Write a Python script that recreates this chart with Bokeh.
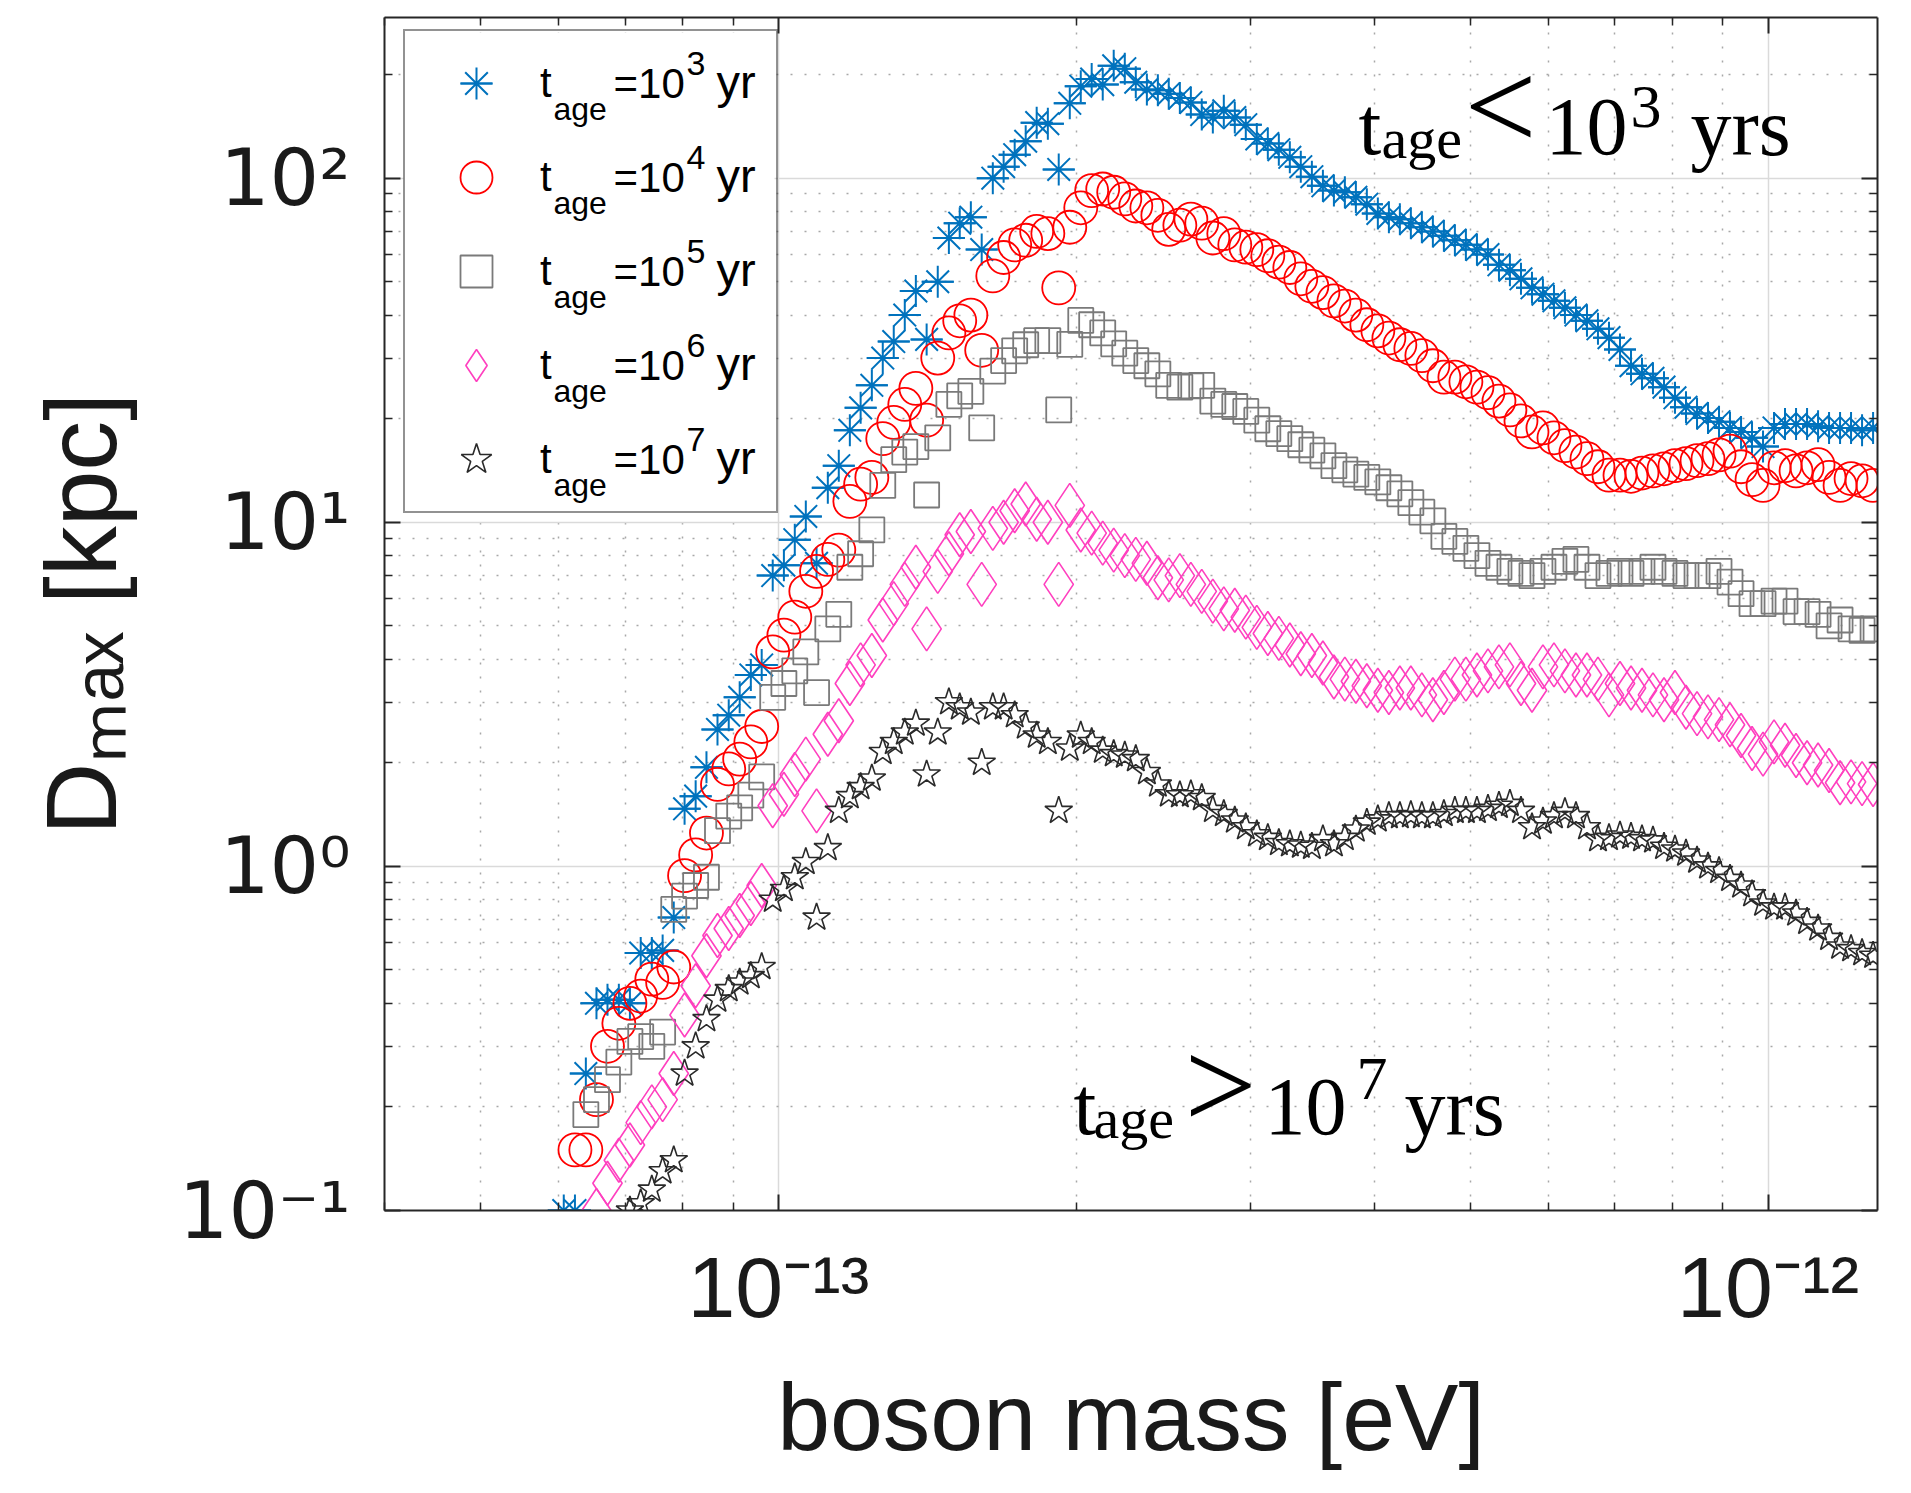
import math
from bokeh.plotting import figure
from bokeh.models import (Range1d, FixedTicker, LogAxis, Label, Legend, LegendItem,
                          CustomJSTickFormatter, BoxAnnotation)
from bokeh.embed import file_html
from bokeh.resources import INLINE

nan = float("nan")

# boson mass in units of 1e-14 eV (shared grid of all series)
mass_e14 = [6.07, 6.23, 6.39, 6.55, 6.72, 6.90, 7.08, 7.26, 7.45, 7.64,
            7.84, 8.04, 8.25, 8.46, 8.68, 8.91, 9.14, 9.38, 9.62, 9.87,
            10.13, 10.39, 10.66, 10.93, 11.22, 11.51, 11.81, 12.11, 12.43, 12.75,
            13.08, 13.42, 13.77, 14.12, 14.49, 14.87, 15.25, 15.65, 16.05, 16.47,
            16.89, 17.33, 17.78, 18.24, 18.72, 19.20, 19.70, 20.21, 20.73, 21.27,
            21.82, 22.39, 22.97, 23.57, 24.18, 24.80, 25.45, 26.11, 26.78, 27.48,
            28.19, 28.92, 29.67, 30.44, 31.23, 32.04, 32.87, 33.72, 34.60, 35.50,
            36.42, 37.36, 38.33, 39.32, 40.34, 41.39, 42.46, 43.56, 44.69, 45.85,
            47.04, 48.26, 49.51, 50.80, 52.12, 53.47, 54.85, 56.28, 57.74, 59.23,
            60.77, 62.34, 63.96, 65.62, 67.32, 69.07, 70.86, 72.70, 74.58, 76.51,
            78.50, 80.53, 82.62, 84.77, 86.96, 89.22, 91.53, 93.91, 96.34, 98.84,
            101.40, 104.03, 106.73, 109.50, 112.34, 115.25, 118.24, 121.30, 124.45, 127.68]

# D_max [kpc] for each age
D_t1e3 = [0.10, 0.10, 0.25, 0.40, 0.41, 0.41, 0.40, 0.56, 0.56, 0.57,
          0.71, 1.47, 1.60, 1.94, 2.50, 2.75, 3.10, 3.60, 3.85, 7.00,
          7.50, 8.90, 10.4, 7.6, 12.6, 14.6, 18.5, 21.5, 25.0, 30.0,
          33.5, 40.0, 47.0, 34.0, 50.0, 67.0, 74.0, 77.0, 62.0, 100.0,
          108, 117, 128, 145, 144, 106, 165, 185, 194, 187,
          212, 208, 190, 181, 180, 176, 171, 166, 153, 150,
          157, 150, 143, 130, 126, 121, 115, 108, 101, 95,
          92, 91, 88, 84, 79, 77, 76, 74, 72, 70,
          68, 66, 64, 62, 60, 56, 54, 51, 48, 46,
          44, 42, 40, 38.5, 36.5, 34.4, 31.8, 28.5, 27.0, 26.2,
          24.7, 23.0, 21.6, 20.7, 20.1, 19.6, 18.8, 18.3, 17.6, 16.6,
          18.8, 19.3, 19.3, 19.3, 19.0, 18.8, 18.8, 18.8, 18.5, 18.8]

D_t1e4 = [nan, 0.15, 0.15, 0.21, 0.30, 0.35, 0.40, 0.42, 0.47, 0.46,
          0.51, 0.94, 1.08, 1.25, 1.73, 1.92, 2.05, 2.30, 2.55, 4.20,
          4.70, 5.30, 6.30, 7.20, 7.80, 8.30, 11.5, 12.9, 13.5, 17.5,
          19.5, 22.0, 24.5, 19.8, 30.0, 35.5, 38.5, 40.0, 31.6, 52.0,
          58.8, 64.0, 66.0, 70.0, 69.0, 48.0, 72.0, 82.0, 92.0, 93.0,
          91, 87, 83, 82, 78, 71, 73, 76, 74, 67,
          69, 64, 63, 62, 59.5, 57, 55, 51, 48.5, 46.5,
          44, 42.5, 40, 37.5, 36, 34.3, 32.8, 32, 30.5, 28.5,
          26.4, 26.4, 25.6, 24.7, 23.8, 22.5, 21.2, 19.7, 18.3, 18.8,
          17.6, 16.7, 16.0, 15.3, 14.5, 13.7, 13.7, 13.6, 13.9, 14.1,
          14.3, 14.6, 14.8, 15.1, 15.3, 15.7, 16.1, 14.5, 13.3, 12.8,
          14.4, 14.6, 14.1, 14.4, 14.7, 13.5, 12.8, 13.4, 13.2, 12.8]

D_t1e5 = [nan, nan, 0.19, 0.21, 0.24, 0.27, 0.31, 0.32, 0.30, 0.33,
          0.75, 0.82, 0.88, 0.93, 1.27, 1.40, 1.48, 1.61, 1.82, 3.10,
          3.40, 3.70, 4.20, 3.20, 4.90, 5.40, 7.40, 8.10, 9.50, 12.8,
          15.2, 16.0, 16.6, 12.0, 17.6, 22.0, 23.3, 24.0, 18.8, 27.5,
          29.5, 31.5, 32.8, 33.7, 33.7, 21.2, 32.9, 38.6, 37.5, 35.5,
          33, 31, 29.5, 28.5, 27, 25, 24.7, 24.9, 25, 22.5,
          22, 21.7, 21, 19.8, 18.7, 18.1, 17.5, 16.8, 16.2, 15.6,
          14.6, 14.2, 13.8, 13.5, 13.1, 12.6, 12.1, 11.4, 10.7, 10.1,
          9.1, 8.8, 8.4, 8.0, 7.6, 7.4, 7.2, 7.1, 7.0, 7.2,
          7.4, 7.7, 7.8, 7.4, 7.0, 7.1, 7.2, 7.1, 7.2, 7.4,
          7.2, 7.1, 7.0, 7.0, 7.0, 7.2, 6.7, 6.2, 5.8, 5.8,
          5.9, 5.9, 5.5, 5.5, 5.4, 5.0, 5.2, 4.9, 4.85, 4.9]

D_t1e6 = [nan, nan, nan, 0.10, 0.12, 0.14, 0.155, 0.18, 0.20, 0.21,
          0.25, 0.37, 0.45, 0.55, 0.63, 0.66, 0.72, 0.78, 0.88, 1.50,
          1.62, 1.85, 2.05, 1.45, 2.42, 2.65, 3.40, 3.85, 4.10, 5.20,
          5.8, 6.6, 7.4, 4.9, 7.2, 8.1, 9.2, 9.4, 6.6, 9.6,
          10.0, 10.8, 11.3, 10.2, 10.0, 6.6, 11.2, 9.5, 9.3, 8.7,
          8.3, 8.0, 7.8, 7.6, 6.9, 6.8, 7.0, 6.6, 6.3, 5.9,
          5.6, 5.55, 5.3, 4.95, 4.75, 4.6, 4.4, 4.15, 4.1, 3.9,
          3.55, 3.5, 3.45, 3.35, 3.25, 3.2, 3.3, 3.3, 3.15, 3.05,
          3.2, 3.5, 3.5, 3.6, 3.7, 3.8, 3.85, 3.4, 3.25, 3.8,
          3.85, 3.7, 3.6, 3.6, 3.5, 3.15, 3.4, 3.3, 3.25, 3.15,
          3.05, 3.2, 2.9, 2.78, 2.72, 2.67, 2.58, 2.4, 2.2, 2.12,
          2.3, 2.25, 2.1, 2.0, 1.97, 1.9, 1.75, 1.76, 1.74, 1.73]

D_t1e7 = [nan, nan, nan, nan, nan, nan, 0.10, 0.105, 0.115, 0.13,
          0.14, 0.25, 0.30, 0.36, 0.41, 0.44, 0.46, 0.48, 0.51, 0.80,
          0.86, 0.93, 1.03, 0.71, 1.13, 1.45, 1.60, 1.70, 1.80, 2.15,
          2.3, 2.45, 2.6, 1.85, 2.45, 3.0, 2.9, 2.8, 2.0, 2.9,
          2.9, 2.75, 2.55, 2.4, 2.3, 1.45, 2.2, 2.4, 2.3, 2.17,
          2.12, 2.1, 2.05, 1.88, 1.73, 1.62, 1.61, 1.62, 1.58, 1.46,
          1.42, 1.36, 1.30, 1.24, 1.21, 1.17, 1.16, 1.15, 1.14, 1.20,
          1.16, 1.21, 1.28, 1.34, 1.37, 1.40, 1.40, 1.41, 1.40, 1.40,
          1.42, 1.45, 1.45, 1.45, 1.47, 1.50, 1.52, 1.45, 1.30, 1.35,
          1.40, 1.44, 1.40, 1.30, 1.20, 1.21, 1.23, 1.22, 1.20, 1.19,
          1.14, 1.12, 1.09, 1.04, 1.00, 0.97, 0.92, 0.88, 0.83, 0.78,
          0.76, 0.76, 0.73, 0.69, 0.66, 0.62, 0.585, 0.575, 0.56, 0.55]

age_exponents = ["3", "4", "5", "6", "7"]
x_ticks = [1e-13, 1e-12]
x_tick_exps = ["-13", "-12"]
y_ticks = [0.1, 1, 10, 100]
y_tick_exps = ["-1", "0", "1", "2"]

mass = [m * 1e-14 for m in mass_e14]

BLUE, RED, GRAY, PINK, DARK = "#0072bd", "#ff0000", "#7a7a7a", "#ff3fbf", "#2a2a2a"
AX = "#262626"
TXT = "#1a1a1a"
SANS = "Liberation Sans"
SERIF = "Liberation Serif"
SUP = str.maketrans("-0123456789", "\u207b\u2070\u00b9\u00b2\u00b3\u2074\u2075\u2076\u2077\u2078\u2079")

W, H = 1911, 1493
L, R, T, B = 384, 1877, 17, 1210

p = figure(width=W, height=H, x_axis_type="log", y_axis_type="log",
           x_range=Range1d(4.0e-14, 1.29e-12), y_range=Range1d(0.1, 293),
           output_backend="svg", toolbar_location=None,
           min_border_left=L, min_border_right=W - R,
           min_border_top=T, min_border_bottom=H - B)
p.background_fill_color = "white"
p.border_fill_color = "white"
p.outline_line_color = None

x_minor = [m * 10.0 ** e for e in (-14, -13) for m in range(2, 10) if 4.0e-14 <= m * 10.0 ** e <= 1.29e-12]
y_minor = [m * 10.0 ** e for e in (-1, 0, 1, 2) for m in range(2, 10) if m * 10.0 ** e <= 293]
xt = FixedTicker(ticks=x_ticks, minor_ticks=x_minor)
yt = FixedTicker(ticks=y_ticks, minor_ticks=y_minor)


def style_axis(ax):
    ax.axis_line_color = AX
    ax.axis_line_width = 2
    ax.major_tick_line_color = AX
    ax.major_tick_line_width = 2
    ax.minor_tick_line_color = AX
    ax.minor_tick_line_width = 1.5
    ax.major_tick_in = 16
    ax.major_tick_out = 0
    ax.minor_tick_in = 8
    ax.minor_tick_out = 0


p.xaxis.ticker = xt
p.yaxis.ticker = yt
xa, ya = p.xaxis[0], p.yaxis[0]
style_axis(xa)
style_axis(ya)

xa.major_label_overrides = {v: "10" + e.translate(SUP) for v, e in zip(x_ticks, x_tick_exps)}
xa.major_label_text_font = SANS
xa.major_label_text_font_size = "86px"
xa.major_label_text_color = TXT
xa.major_label_standoff = 28
xa.axis_label = "boson mass [eV]"
xa.axis_label_text_font = SANS
xa.axis_label_text_font_size = "95px"
xa.axis_label_text_font_style = "normal"
xa.axis_label_text_color = TXT
xa.axis_label_standoff = 26

ya.major_label_overrides = {v: "10" + e.translate(SUP) for v, e in zip(y_ticks, y_tick_exps)}
ya.major_label_text_font = "DejaVu Sans"
ya.major_label_text_font_size = "78px"
ya.major_label_text_color = TXT
ya.major_label_standoff = 34
ya.axis_label = "D\u2098\u2090\u2093 [kpc]"
ya.axis_label_text_font = SANS
ya.axis_label_text_font_size = "100px"
ya.axis_label_text_font_style = "normal"
ya.axis_label_text_color = TXT
ya.axis_label_standoff = 39

blank = CustomJSTickFormatter(code="return ''")
top_ax = LogAxis(ticker=xt, formatter=blank, major_label_standoff=0)
right_ax = LogAxis(ticker=yt, formatter=blank, major_label_standoff=0)
style_axis(top_ax)
style_axis(right_ax)
p.add_layout(top_ax, "above")
p.add_layout(right_ax, "right")

p.xgrid.ticker = xt
p.ygrid.ticker = yt
for g in (p.xgrid[0], p.ygrid[0]):
    g.grid_line_color = "#dadada"
    g.grid_line_width = 1.5
    g.minor_grid_line_color = "#a8a8a8"
    g.minor_grid_line_width = 1.5
    g.minor_grid_line_dash = "2 12"

# white panel behind the legend (hides the grid there)
p.add_layout(BoxAnnotation(left=403 - L, right=774 - L, top=B - 32, bottom=B - 513,
                           left_units="screen", right_units="screen",
                           top_units="screen", bottom_units="screen",
                           fill_color="white", fill_alpha=1.0, line_color=None,
                           level="underlay"))

# data
r_b1 = p.scatter(mass, D_t1e3, marker="asterisk", size=32, line_color=BLUE, line_width=2)
r_b2 = p.scatter(mass, D_t1e3, marker="dash", size=32, line_color=BLUE, line_width=2)
r_r = p.scatter(mass, D_t1e4, marker="circle", size=33, line_color=RED, fill_color=None, line_width=1.8)
r_g = p.scatter(mass, D_t1e5, marker="square", size=25, line_color=GRAY, fill_color=None, line_width=1.8)
r_p = p.scatter(mass, D_t1e6, marker="diamond", size=44, line_color=PINK, fill_color=None, line_width=1.6)
r_k = p.scatter(mass, D_t1e7, marker="star", size=29, line_color=DARK, fill_color=None, line_width=1.6)

# legend (box, markers and the leading "t"); the rest of each entry is written beside it
items = [LegendItem(label="t", renderers=rs) for rs in
         ([r_b1, r_b2], [r_r], [r_g], [r_p], [r_k])]
leg = Legend(items=items, location=(19, 697), orientation="vertical",
             glyph_width=118, glyph_height=80, label_height=80, label_width=224,
             spacing=14, padding=12, margin=0, label_standoff=5,
             border_line_color=AX, border_line_width=2,
             background_fill_color="white", background_fill_alpha=0.0,
             label_text_font=SANS, label_text_font_size="42px",
             label_text_color="#000000", label_text_baseline="middle")
p.add_layout(leg)

# the label anchor ends up ~0.38 em above the glyph baseline
SHIFT = 0.38


def lab(X, Ybase, text, size, font=SANS, align="left", color="#000000"):
    p.add_layout(Label(x=X - L, y=B - (Ybase - SHIFT * size), x_units="screen", y_units="screen",
                       text=text, text_font=font, text_font_size=f"{size}px", text_align=align,
                       text_baseline="alphabetic", text_color=color))


for i, e in enumerate(age_exponents):
    cy = 84 + 94 * i
    lab(553, cy + 37, "age", 32)
    lab(613, cy + 15, "=10", 42)
    lab(686, cy - 8, e, 34)
    lab(716, cy + 15, "yr", 47)

# in-plot annotations
lab(1358, 157, "t", 82, font=SERIF)
lab(1381, 160, "age", 58, font=SERIF)
lab(1464, 154, "<", 128, font=SERIF)
lab(1545, 158, "10", 82, font=SERIF)
lab(1630, 130, age_exponents[0], 62, font=SERIF)
lab(1690, 158, "yrs", 82, font=SERIF)

lab(1073, 1137, "t", 82, font=SERIF)
lab(1093, 1140, "age", 58, font=SERIF)
lab(1184, 1133, ">", 128, font=SERIF)
lab(1264, 1138, "10", 82, font=SERIF)
lab(1356, 1102, age_exponents[-1], 62, font=SERIF)
lab(1404, 1138, "yrs", 82, font=SERIF)

open("out.html", "w").write(file_html(p, INLINE))
